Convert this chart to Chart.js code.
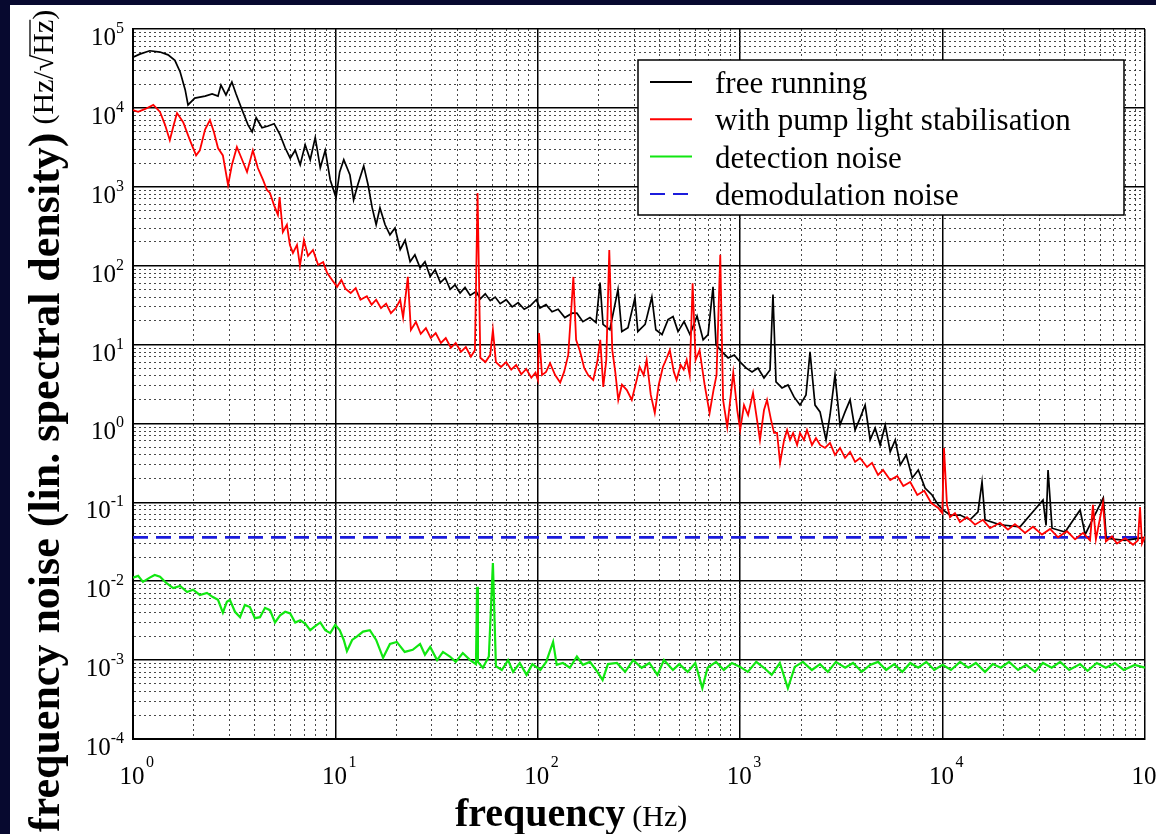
<html>
<head>
<meta charset="utf-8"/>
<title>frequency noise</title>
<script src="https://cdn.jsdelivr.net/npm/chart.js@4.4.0/dist/chart.umd.min.js"></script>
<style>
  body { margin: 0; background: #07092f; }
  canvas { display: block; }
</style>
</head>
<body>
<canvas id="noiseChart" width="1156" height="834"></canvas>

<script>
// tick labels (decade exponents) and minor grid steps
var xDecades = [0, 1, 2, 3, 4, 5];
var yDecades = [-4, -3, -2, -1, 0, 1, 2, 3, 4, 5];
var minorSteps = [2, 3, 4, 5, 6, 7, 8, 9];

var seriesLabels = ['free running', 'with pump light stabilisation', 'detection noise', 'demodulation noise'];

// free running (Hz, Hz/sqrt(Hz))
var freeFreq = [1, 1.08, 1.21, 1.36, 1.49, 1.61, 1.71, 1.81, 1.87, 2.02,
  2.27, 2.46, 2.63, 2.72, 2.88, 3.08, 3.23, 3.46, 3.70, 3.88,
  4.06, 4.34, 4.65, 4.98, 5.33, 5.65, 5.98, 6.33, 6.70, 7.09,
  7.51, 7.95, 8.42, 8.91, 9.43, 10.07, 10.5, 11.0, 11.8, 12.3,
  12.9, 13.8, 14.5, 15.2, 15.9, 16.6, 17.6, 18.6, 19.7, 20.9,
  22.1, 23.4, 24.7, 26.2, 27.7, 29.4, 31.1, 33.0, 34.9, 36.9,
  39.0, 41.3, 43.7, 46.3, 49.6, 52.0, 55.0, 58.2, 61.6, 65.2,
  69.8, 74.7, 80, 85.7, 91.8, 98.3, 102.5, 109.8, 117.6, 126,
  136, 148, 156, 167, 181, 194, 203, 210, 227, 249,
  260, 279, 302, 312, 339, 366, 383, 411, 440, 466,
  493, 528, 565, 612, 656, 694, 734, 760, 814, 872,
  934, 1000, 1068, 1144, 1224, 1311, 1404, 1452, 1503, 1609,
  1722, 1844, 1974, 2114, 2213, 2343, 2480, 2655, 2779, 2940,
  3113, 3296, 3490, 3695, 3911, 4142, 4385, 4643, 4916, 5205,
  5511, 5835, 6178, 6614, 7082, 7583, 8190, 8870, 9500, 10050,
  10880, 12190, 13660, 14960, 15660, 16210, 19210, 24130, 31340, 32440,
  33190, 34730, 40290, 47800, 50600, 62210, 64400, 79800, 100000];
var freeNoise = [44000, 48000, 53000, 51000, 47000, 40000, 28500, 17000, 10900, 13300,
  14100, 15000, 14100, 19500, 14600, 21300, 15000, 9400, 6100, 4960,
  7500, 5600, 5900, 6300, 4550, 3100, 2300, 2900, 1900, 3400,
  2200, 4200, 1740, 2900, 1220, 730, 1540, 2200, 1410, 680,
  1060, 1840, 1060, 540, 330, 540, 330, 246, 300, 160,
  210, 112, 137, 94, 112, 73, 89, 61, 70, 50,
  57, 45, 53, 42, 47, 38, 44, 36, 40, 33,
  37, 30, 34, 28, 31, 37, 29, 32, 26, 28,
  22, 25, 25, 19.5, 22, 19, 61, 18, 15.4, 50,
  14.6, 16.4, 39, 14.6, 18, 40, 15.4, 13.4, 20.7, 22.6,
  14.6, 19.5, 13.4, 23, 11.5, 13.4, 54, 9.9, 8.06, 6.77,
  7.38, 6.0, 5.05, 4.5, 5.05, 3.77, 4.76, 43, 3.36, 2.82,
  3.08, 2.17, 1.71, 2.3, 8.06, 1.71, 1.4, 0.618, 1.28, 4.1,
  0.957, 1.4, 1.99, 0.827, 1.17, 1.71, 0.618, 0.877, 0.534, 0.957,
  0.436, 0.618, 0.298, 0.398, 0.204, 0.257, 0.152, 0.124, 0.093, 0.08,
  0.069, 0.069, 0.06, 0.076, 0.181, 0.06, 0.052, 0.049, 0.107, 0.051,
  0.257, 0.047, 0.042, 0.08, 0.039, 0.114, 0.035, 0.033, 0.036];

// with pump light stabilisation
var pumpFreq = [1, 1.06, 1.15, 1.26, 1.36, 1.44, 1.52, 1.59, 1.65, 1.77,
  1.91, 2.05, 2.14, 2.27, 2.40, 2.51, 2.63, 2.78, 2.95, 3.08,
  3.26, 3.46, 3.66, 3.91, 4.14, 4.39, 4.59, 4.75, 4.97, 5.2,
  5.3, 5.5, 5.76, 5.96, 6.17, 6.46, 6.68, 6.99, 7.32, 7.75,
  8.22, 8.7, 9.1, 9.63, 10.2, 10.7, 11.2, 11.9, 12.6, 13.3,
  14.3, 15.1, 15.9, 16.8, 17.8, 18.8, 19.9, 20.9, 21.6, 22.8,
  23.6, 25, 26.4, 28, 29.6, 31.3, 33.2, 35.1, 37.2, 39.3,
  41.7, 44.1, 46.7, 48.9, 50.4, 52, 55.1, 58.2, 60, 62.1,
  65.8, 69.8, 73.9, 78.2, 82.9, 87.7, 92.9, 97.4, 100.1, 101.4,
  104.9, 109.8, 115, 121.8, 129, 134.9, 141.4, 149.9, 154.6, 161.9,
  169.5, 177.4, 187.9, 196.7, 203.5, 210.6, 218, 225.5, 233.3, 241.4,
  249.8, 260.4, 275.4, 291.3, 308, 318.6, 333.5, 345, 361.6, 378.5,
  396, 415, 434, 449, 470, 485, 508, 526, 544, 563,
  582, 602, 630, 667, 706, 738, 764, 797, 823, 863,
  893, 924, 967, 1000, 1044, 1094, 1157, 1211, 1252, 1311,
  1357, 1420, 1470, 1521, 1574, 1648, 1705, 1764, 1826, 1911,
  1974, 2066, 2138, 2262, 2368, 2480, 2625, 2779, 2940, 3113,
  3296, 3490, 3695, 3911, 4232, 4479, 4796, 5078, 5511, 5970,
  6395, 6920, 7498, 8115, 8790, 9520, 9960, 10160, 10510, 10880,
  11510, 12190, 13200, 14460, 15830, 17150, 19210, 21040, 22770, 25540,
  27970, 30980, 33960, 37180, 41190, 45130, 49440, 53500, 55300, 57200,
  62000, 64100, 68700, 72700, 79700, 87300, 92300, 94500, 96600, 100000];
var pumpNoise = [9400, 8900, 9700, 10900, 8900, 6100, 3900, 6100, 8600, 6600,
  3900, 2500, 2900, 5300, 7000, 4950, 3100, 2500, 1050, 1890,
  3200, 2200, 1540, 2900, 1730, 1220, 910, 835, 590, 440,
  740, 267, 330, 183, 145, 183, 100, 210, 133, 158,
  102, 111, 81, 66, 54, 66, 51, 45, 52, 37,
  41, 32, 37, 29, 33, 25, 29, 37, 22, 72,
  15.3, 19.3, 13.7, 16.2, 12.1, 14, 10.5, 12.1, 9.1, 10.5,
  8.1, 9.3, 7.0, 8.5, 835, 6.8, 6.0, 7.4, 15.3, 6.0,
  5.2, 6.0, 4.8, 5.5, 4.2, 4.9, 3.8, 4.4, 3.55, 14,
  4.1, 4.5, 5.8, 4.1, 3.3, 4.5, 7.4, 72, 11.5, 8.1,
  5.05, 4.1, 3.55, 6.0, 11.5, 2.9, 6.4, 158, 8.5, 4.5,
  1.99, 3.1, 2.65, 1.99, 3.55, 5.2, 4.1, 6.4, 2.3, 1.36,
  3.1, 5.2, 6.8, 8.5, 4.5, 3.55, 5.5, 4.8, 6.4, 4.1,
  60, 6.4, 8.5, 3.1, 1.36, 2.65, 4.1, 137, 1.99, 0.9,
  1.99, 4.4, 1.48, 0.83, 1.71, 1.28, 2.44, 1.11, 0.618, 1.48,
  1.99, 1.11, 0.758, 0.758, 0.316, 0.618, 0.827, 0.618, 0.758, 0.534,
  0.758, 0.618, 0.827, 0.534, 0.655, 0.534, 0.489, 0.566, 0.398, 0.489,
  0.365, 0.436, 0.325, 0.365, 0.281, 0.316, 0.222, 0.257, 0.192, 0.216,
  0.161, 0.181, 0.124, 0.14, 0.098, 0.085, 0.073, 0.489, 0.093, 0.065,
  0.073, 0.056, 0.065, 0.052, 0.06, 0.047, 0.055, 0.045, 0.053, 0.041,
  0.049, 0.039, 0.046, 0.036, 0.043, 0.034, 0.041, 0.033, 0.093, 0.034,
  0.098, 0.032, 0.037, 0.03, 0.035, 0.029, 0.033, 0.087, 0.03, 0.037];

// detection noise
var detFreq = [1, 1.06, 1.12, 1.21, 1.28, 1.36, 1.46, 1.58, 1.71, 1.85,
  1.98, 2.14, 2.32, 2.48, 2.63, 2.78, 2.91, 3.01, 3.19, 3.38,
  3.57, 3.78, 4.0, 4.24, 4.49, 4.75, 5.03, 5.33, 5.65, 5.98,
  6.33, 6.70, 7.09, 7.51, 7.95, 8.42, 8.91, 9.43, 9.98, 10.5,
  11.0, 11.4, 12.1, 12.8, 13.7, 14.8, 15.9, 17.2, 18.6, 20.1,
  22, 24.1, 26.2, 27.7, 29.4, 31.8, 34.0, 36.8, 39.3, 42.6,
  46.3, 49.5, 50.1, 50.6, 53.5, 57.3, 60, 62.1, 66.4, 71.3,
  75.5, 81.5, 88, 94, 103, 110, 119, 124, 133, 144,
  156, 167, 181, 194, 209, 222, 246, 270, 296, 326,
  356, 390, 420, 465, 500, 550, 600, 650, 690, 760,
  830, 910, 1000, 1090, 1200, 1310, 1430, 1570, 1720, 1860,
  2040, 2260, 2480, 2710, 2970, 3300, 3610, 3990, 4380, 4800,
  5260, 5770, 6320, 6920, 7580, 8310, 9100, 10000, 11000, 12200,
  13400, 14600, 16200, 17700, 19400, 21300, 23600, 25900, 28600, 31300,
  34600, 38100, 42200, 47800, 52000, 57800, 64000, 71000, 78500, 89000,
  100000];
var detNoise = [0.0111, 0.0117, 0.0098, 0.0111, 0.012, 0.0114, 0.0095, 0.0082, 0.0087, 0.0073,
  0.0078, 0.0067, 0.0071, 0.0063, 0.0058, 0.0040, 0.0055, 0.0058, 0.0041, 0.0035,
  0.005, 0.0047, 0.0034, 0.0035, 0.0046, 0.0043, 0.003, 0.0037, 0.0041, 0.0039,
  0.003, 0.0032, 0.0029, 0.0024, 0.0027, 0.003, 0.0024, 0.0022, 0.0028, 0.0024,
  0.0018, 0.0013, 0.0018, 0.002, 0.0023, 0.0024, 0.0018, 0.00107, 0.0016, 0.0017,
  0.00127, 0.00135, 0.0016, 0.00117, 0.00147, 0.001, 0.00127, 0.00111, 0.00095, 0.00123,
  0.001, 0.00089, 0.0085, 0.00095, 0.0008, 0.00111, 0.017, 0.00084, 0.00075, 0.001,
  0.00071, 0.00092, 0.00065, 0.00089, 0.00075, 0.00095, 0.0017, 0.00087, 0.00092, 0.0008,
  0.00111, 0.00087, 0.00095, 0.00075, 0.00056, 0.00089, 0.00092, 0.00071, 0.001, 0.0008,
  0.00092, 0.00065, 0.001, 0.00075, 0.00089, 0.00071, 0.00092, 0.00044, 0.0008, 0.00095,
  0.00075, 0.00092, 0.00082, 0.00071, 0.00095, 0.0008, 0.00065, 0.00092, 0.00044, 0.00082,
  0.00095, 0.00075, 0.00089, 0.00071, 0.00095, 0.0008, 0.00092, 0.00071, 0.00087, 0.00095,
  0.00075, 0.00089, 0.00071, 0.00092, 0.0008, 0.00095, 0.00075, 0.00087, 0.00075, 0.00095,
  0.0008, 0.00092, 0.00071, 0.00089, 0.0008, 0.00095, 0.00075, 0.00087, 0.00071, 0.00092,
  0.0008, 0.00095, 0.00075, 0.00089, 0.00073, 0.00092, 0.0008, 0.00092, 0.00075, 0.00087,
  0.0008];

// demodulation noise (flat)
var demodFreq = [1, 100000];
var demodNoise = [0.036, 0.036];

var serif = '"Liberation Serif", "Times New Roman", serif';

function pairs(xs, ys) {
    var out = [];
    for (var i = 0; i < xs.length; i++) out.push({x: xs[i], y: ys[i]});
    return out;
}

function isDecade(v) {
    var l = Math.log10(v);
    return Math.abs(l - Math.round(l)) < 1e-6;
}

function logTicks(decades) {
    var t = [];
    for (var i = 0; i < decades.length; i++) {
        var base = Math.pow(10, decades[i]);
        t.push({value: base});
        if (i < decades.length - 1) {
            minorSteps.forEach(function (m) { t.push({value: m * base}); });
        }
    }
    return t;
}

var gridColor = function (ctx) { return ctx.tick && isDecade(ctx.tick.value) ? '#000' : 'rgba(40,40,40,0.85)'; };
var gridWidth = function (ctx) { return ctx.tick && isDecade(ctx.tick.value) ? 1.5 : 1; };
var gridDash = function (ctx) { return ctx.tick && !isDecade(ctx.tick.value) ? [2, 3] : []; };

// labels, titles, legend and the page frame
var decorations = {
    id: 'decorations',
    beforeDraw: function (chart) {
        var c = chart.ctx;
        c.save();
        c.fillStyle = '#07092f';
        c.fillRect(0, 0, chart.width, chart.height);
        c.fillStyle = '#ffffff';
        c.fillRect(10, 5, chart.width - 10, chart.height - 5);
        c.restore();
    },
    afterDraw: function (chart) {
        var c = chart.ctx;
        var xs = chart.scales.x, ys = chart.scales.y;
        c.save();
        c.fillStyle = '#000';
        c.textBaseline = 'alphabetic';

        xDecades.forEach(function (e) {
            var px = xs.getPixelForValue(Math.pow(10, e));
            c.font = '25px ' + serif;
            c.textAlign = 'center';
            c.fillText('10', px - 1, 784);
            c.font = '16px ' + serif;
            c.textAlign = 'left';
            c.fillText(String(e), px + 13, 767);
        });

        yDecades.forEach(function (e) {
            var py = ys.getPixelForValue(Math.pow(10, e));
            var ex = String(e);
            c.font = '16px ' + serif;
            c.textAlign = 'right';
            c.fillText(ex, 124, py + 4);
            var ew = c.measureText(ex).width;
            c.font = '25px ' + serif;
            c.fillText('10', 124 - ew, py + 16);
        });

        // y title
        c.save();
        c.translate(59, 832);
        c.rotate(-Math.PI / 2);
        c.textAlign = 'left';
        c.font = 'bold 44px ' + serif;
        var yt = 'frequency noise (lin. spectral density)';
        c.fillText(yt, 0, 0);
        var pos = c.measureText(yt).width + 8;
        c.font = '30px ' + serif;
        var p1 = '(Hz/\u221A';
        c.fillText(p1, pos, -6);
        pos += c.measureText(p1).width;
        c.fillText('Hz', pos, -6);
        var hw = c.measureText('Hz').width;
        c.lineWidth = 1.3;
        c.strokeStyle = '#000';
        c.beginPath();
        c.moveTo(pos - 1, -29);
        c.lineTo(pos + hw, -29);
        c.stroke();
        c.fillText(')', pos + hw, -6);
        c.restore();

        // x title
        c.textAlign = 'left';
        c.font = 'bold 40px ' + serif;
        c.fillText('frequency', 455, 826);
        var fw = c.measureText('frequency').width;
        c.font = '30px ' + serif;
        c.fillText('(Hz)', 455 + fw + 7, 826);

        // legend
        var lx = 638, ly = 60, lw = 486, lh = 155;
        c.fillStyle = '#fff';
        c.fillRect(lx, ly, lw, lh);
        c.strokeStyle = '#000';
        c.lineWidth = 1.5;
        c.strokeRect(lx, ly, lw, lh);
        chart.data.datasets.forEach(function (ds, i) {
            var y = 82 + i * 37.3;
            c.strokeStyle = ds.borderColor;
            c.lineWidth = 2;
            c.setLineDash(ds.borderDash || []);
            c.beginPath();
            c.moveTo(650, y);
            c.lineTo(692, y);
            c.stroke();
            c.setLineDash([]);
            c.fillStyle = '#000';
            c.font = '31px ' + serif;
            c.fillText(ds.label, 715, y + 11);
        });
        c.restore();
    }
};

var ctx = document.getElementById('noiseChart');
var noiseChart = new Chart(ctx, {
    type: 'line',
    data: {
        datasets: [
            {label: seriesLabels[0], data: pairs(freeFreq, freeNoise), borderColor: '#000000', borderWidth: 1.7, order: 1},
            {label: seriesLabels[1], data: pairs(pumpFreq, pumpNoise), borderColor: '#ff0000', borderWidth: 1.8, order: 0},
            {label: seriesLabels[2], data: pairs(detFreq, detNoise), borderColor: '#11e611', borderWidth: 2.2, order: 3},
            {label: seriesLabels[3], data: pairs(demodFreq, demodNoise), borderColor: '#1c1cdc', borderWidth: 2.6, borderDash: [15, 8], order: 2}
        ]
    },
    options: {
        responsive: false,
        devicePixelRatio: 1,
        animation: false,
        layout: {padding: {top: 29, right: 11, left: 0, bottom: 0}},
        elements: {point: {radius: 0}, line: {tension: 0}},
        plugins: {legend: {display: false}, tooltip: {enabled: false}},
        scales: {
            x: {
                type: 'logarithmic',
                min: 1,
                max: 100000,
                afterBuildTicks: function (s) { s.ticks = logTicks(xDecades); },
                afterFit: function (s) { s.height = 95; },
                ticks: {display: false, autoSkip: false},
                grid: {color: gridColor, lineWidth: gridWidth, drawTicks: false},
                border: {display: true, color: '#000', width: 2, dash: gridDash}
            },
            y: {
                type: 'logarithmic',
                min: 0.0001,
                max: 100000,
                afterBuildTicks: function (s) { s.ticks = logTicks(yDecades); },
                afterFit: function (s) { s.width = 133; },
                ticks: {display: false, autoSkip: false},
                grid: {color: gridColor, lineWidth: gridWidth, drawTicks: false},
                border: {display: true, color: '#000', width: 2, dash: gridDash}
            }
        }
    },
    plugins: [decorations]
});
</script>
</body>
</html>
